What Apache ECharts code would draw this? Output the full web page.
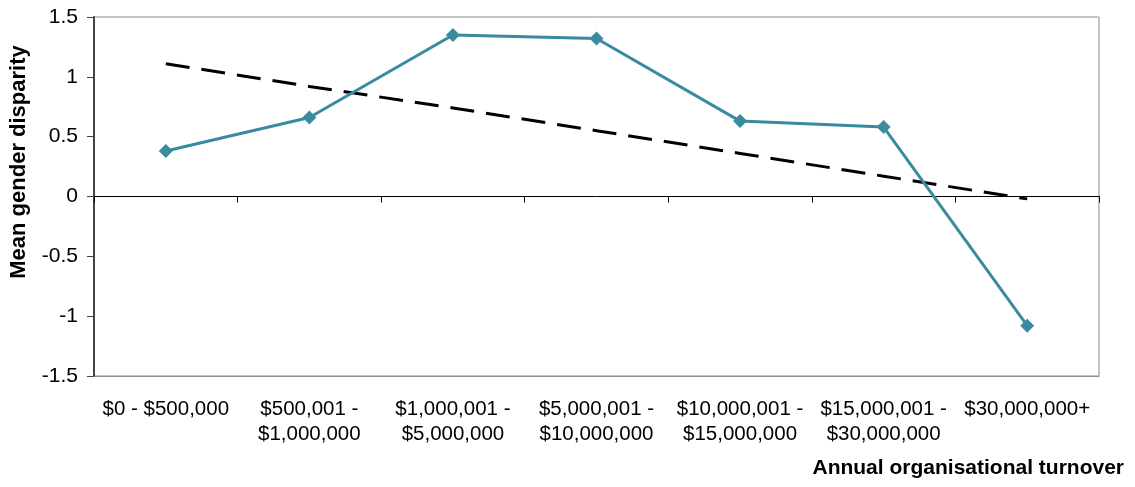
<!DOCTYPE html>
<html>
<head>
<meta charset="utf-8">
<script src="https://cdn.jsdelivr.net/npm/echarts@6/dist/echarts.min.js"></script>
<style>
html,body{margin:0;padding:0;background:#fff;}
#c{width:1135px;height:487px;}
</style>
</head>
<body>
<div id="c"></div>
<script>
var categories = ['$0 - $500,000', '$500,001 -\n$1,000,000', '$1,000,001 -\n$5,000,000', '$5,000,001 -\n$10,000,000', '$10,000,001 -\n$15,000,000', '$15,000,001 -\n$30,000,000', '$30,000,000+'];
var meanDisparity = [0.38, 0.66, 1.35, 1.32, 0.63, 0.58, -1.08];
var trendValues = [1.11, 0.92, 0.74, 0.55, 0.36, 0.17, -0.02];
var yTicks = { min: -1.5, max: 1.5, interval: 0.5 };
var yAxisTitle = 'Mean gender disparity';
var xAxisTitle = 'Annual organisational turnover';

var chart = echarts.init(document.getElementById('c'), null, { renderer: 'canvas' });
var font = 'Liberation Sans, Arial, sans-serif';
chart.setOption({
  animation: false,
  grid: { left: 94, right: 36, top: 17, bottom: 111, show: true, borderColor: '#8c8c8c', borderWidth: 1, containLabel: false },
  xAxis: [
    {
      type: 'category', data: categories, boundaryGap: true, position: 'bottom',
      axisLine: { show: true, onZero: true, lineStyle: { color: '#000', width: 1 } },
      axisTick: { show: true, inside: false, length: 6, lineStyle: { color: '#000' } },
      axisLabel: { show: false }, splitLine: { show: false }
    },
    {
      type: 'category', data: categories, boundaryGap: true, position: 'bottom',
      axisLine: { show: true, onZero: false, lineStyle: { color: '#8c8c8c', width: 1 } },
      axisTick: { show: false },
      axisLabel: { show: true, interval: 0, margin: 21, color: '#000', fontFamily: font, fontSize: 20.5, lineHeight: 25, align: 'center' },
      splitLine: { show: false }
    }
  ],
  yAxis: {
    type: 'value', min: yTicks.min, max: yTicks.max, interval: yTicks.interval,
    axisLine: { show: true, lineStyle: { color: '#444', width: 2 } },
    axisTick: { show: true, inside: false, length: 7, lineStyle: { color: '#444' } },
    axisLabel: { color: '#000', fontFamily: font, fontSize: 21, margin: 16 },
    splitLine: { show: false }
  },
  series: [
    {
      type: 'line', data: trendValues, xAxisIndex: 0, symbol: 'none', silent: true,
      lineStyle: { color: '#000', width: 3, type: [24, 12] }, z: 2
    },
    {
      type: 'line', data: meanDisparity, xAxisIndex: 0, symbol: 'diamond', symbolSize: 14,
      itemStyle: { color: '#3a8aa0' },
      lineStyle: { color: '#3a8aa0', width: 3 }, z: 3
    }
  ],
  graphic: [
    {
      type: 'text', rotation: Math.PI / 2, x: 19, y: 162,
      style: { text: yAxisTitle, font: 'bold 22px ' + font, fill: '#000', align: 'center', verticalAlign: 'middle' }
    },
    {
      type: 'text', x: 1124, y: 468,
      style: { text: xAxisTitle, font: 'bold 21px ' + font, fill: '#000', align: 'right', verticalAlign: 'middle' }
    }
  ]
});
</script>
</body>
</html>
